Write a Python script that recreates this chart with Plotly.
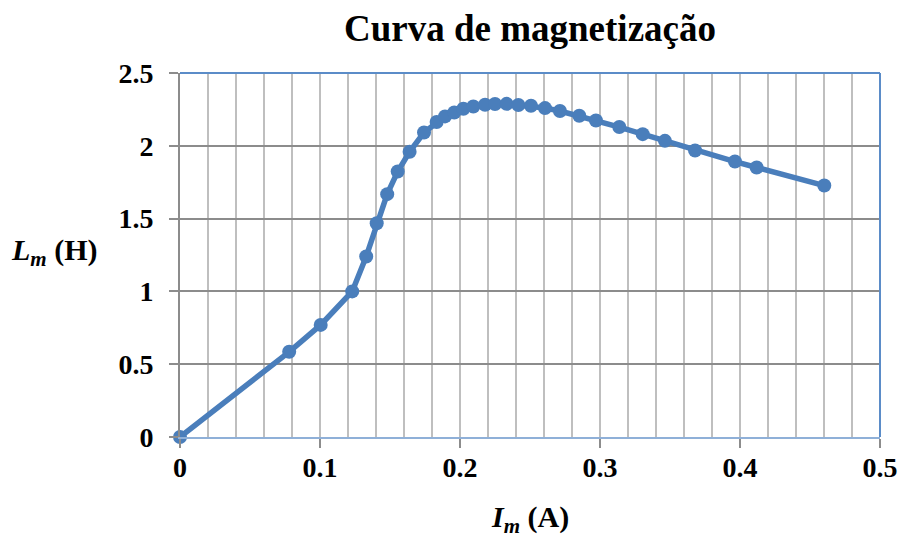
import plotly.graph_objects as go

# Data
current_A = [0, 0.078, 0.1005, 0.123, 0.133, 0.1405, 0.148, 0.1555, 0.164, 0.1743,
             0.1833, 0.1893, 0.1959, 0.2024, 0.2095, 0.2179, 0.225, 0.2333, 0.2417,
             0.2507, 0.2607, 0.2714, 0.2852, 0.2971, 0.3138, 0.3305, 0.3464, 0.3679,
             0.3964, 0.4119, 0.4602]
inductance_H = [0, 0.585, 0.77, 1.0, 1.24, 1.468, 1.668, 1.823, 1.959, 2.091,
                2.163, 2.202, 2.229, 2.254, 2.270, 2.282, 2.287, 2.288, 2.280,
                2.275, 2.259, 2.239, 2.206, 2.174, 2.129, 2.080, 2.034, 1.968,
                1.892, 1.851, 1.727]

title_text = "Curva de magnetização"
x_title = "<b><i>I</i><sub><i>m</i></sub> (A)</b>"
y_title = "<b><i>L</i><sub><i>m</i></sub> (H)</b>"

FONT = "Liberation Serif, Times New Roman, serif"
BLUE = "#4a7ebb"

fig = go.Figure()
fig.add_trace(go.Scatter(
    x=current_A, y=inductance_H, mode="lines+markers",
    line=dict(color=BLUE, width=5.5),
    marker=dict(color=BLUE, size=14),
    cliponaxis=False, showlegend=False,
))

fig.update_layout(
    width=900, height=530,
    margin=dict(l=172, r=28, t=65, b=101, autoexpand=False),
    paper_bgcolor="white", plot_bgcolor="white",
    font=dict(family=FONT, size=28, color="black"),
    title=dict(text="<b>" + title_text + "</b>", x=0.5, xref="paper",
               xanchor="center", y=1 - 20 / 530, yanchor="middle",
               font=dict(family=FONT, size=37, color="black")),
    xaxis=dict(
        range=[0, 0.5], dtick=0.1, tickformat="~g",
        showgrid=True, gridcolor="#bfbfbf", gridwidth=1.5,
        minor=dict(dtick=0.02, showgrid=True, gridcolor="#bfbfbf", gridwidth=1.5),
        showline=True, linecolor="#8fb0d8", linewidth=2, mirror=False,
        ticks="outside", ticklen=9, tickcolor="#8c8c8c", tickwidth=1.5,
        ticklabelstandoff=-5,
        tickfont=dict(family=FONT, size=28, color="black", weight="bold"),
        zeroline=False, fixedrange=True,
    ),
    yaxis=dict(
        range=[0, 2.5], dtick=0.5, tickformat="~g",
        showgrid=True, gridcolor="#8c8c8c", gridwidth=2,
        showline=True, linecolor="#8c8c8c", linewidth=2,
        ticks="outside", ticklen=9, tickcolor="#8c8c8c", tickwidth=1.5,
        ticklabelstandoff=10,
        tickfont=dict(family=FONT, size=28, color="black", weight="bold"),
        zeroline=False, fixedrange=True,
    ),
    shapes=[
        dict(type="line", xref="paper", yref="paper", x0=0, x1=1, y0=1, y1=1,
             line=dict(color="#5b8cc8", width=2)),
        dict(type="line", xref="paper", yref="paper", x0=1, x1=1, y0=0, y1=1,
             line=dict(color="#5b8cc8", width=2)),
    ],
    annotations=[
        dict(text=x_title, xref="paper", yref="paper", x=0.5, y=-0.225,
             xanchor="center", yanchor="middle", showarrow=False,
             font=dict(family=FONT, size=30, color="black")),
        dict(text=y_title, xref="paper", yref="paper", x=-0.179, y=0.508,
             xanchor="center", yanchor="middle", showarrow=False,
             font=dict(family=FONT, size=30, color="black")),
    ],
)

fig.write_html("out.html")
